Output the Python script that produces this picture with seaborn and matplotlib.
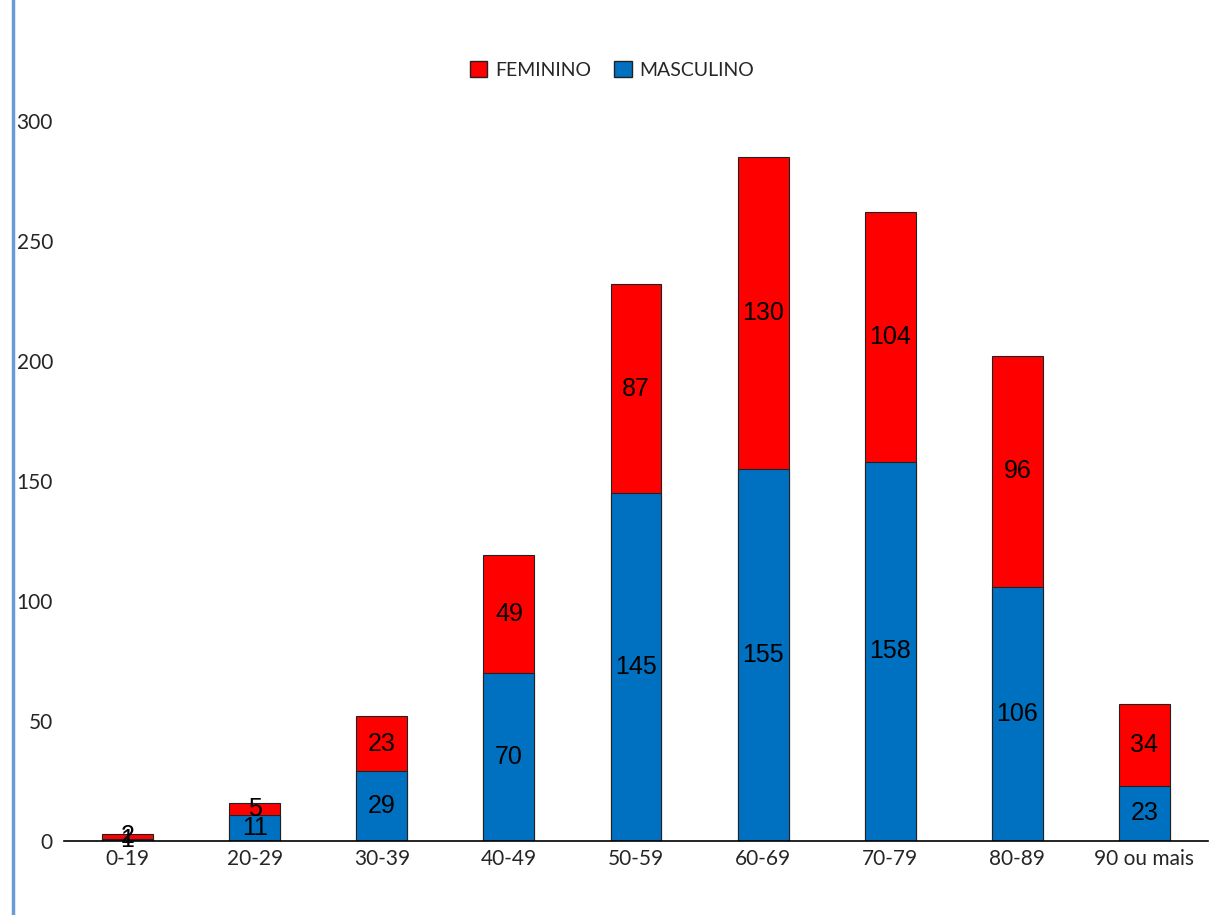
import seaborn as sns
import pandas as pd
import numpy as np
import matplotlib.pyplot as plt
from matplotlib.patches import Patch
from matplotlib.lines import Line2D

faixas = ['0-19', '20-29', '30-39', '40-49', '50-59', '60-69', '70-79', '80-89', '90 ou mais']
masculino = [1, 11, 29, 70, 145, 155, 158, 106, 23]
feminino = [2, 5, 23, 49, 87, 130, 104, 96, 34]

cor_fem = '#FF0000'
cor_masc = '#0070C0'

df = pd.DataFrame({'faixa': faixas, 'masculino': masculino, 'feminino': feminino})
df['total'] = df['masculino'] + df['feminino']

sns.set_style('white')
plt.rcParams['font.family'] = ['Lato', 'DejaVu Sans']

fig = plt.figure(figsize=(12.12, 9.15), dpi=100)
ax = fig.add_axes([64 / 1212, 74 / 915, 1144 / 1212, 720 / 915])

sns.barplot(data=df, x='faixa', y='total', color=cor_fem, width=0.4,
            edgecolor='#222222', linewidth=0.8, saturation=1, ax=ax)
sns.barplot(data=df, x='faixa', y='masculino', color=cor_masc, width=0.4,
            edgecolor='#222222', linewidth=0.8, saturation=1, ax=ax)

# rótulos centrados em cada segmento
for i, row in df.iterrows():
    ax.text(i, row['masculino'] / 2, str(row['masculino']), ha='center', va='center',
            fontsize=18, family='Liberation Sans', color='black')
    ax.text(i, row['masculino'] + row['feminino'] / 2, str(row['feminino']), ha='center',
            va='center', fontsize=18, family='Liberation Sans', color='black')

ax.set_xlim(-0.5, 8.5)
ax.set_ylim(0, 300)
ax.set_yticks(np.arange(0, 301, 50))
ax.set_xlabel('')
ax.set_ylabel('')
ax.tick_params(axis='both', length=0, labelsize=15)
ax.tick_params(axis='y', pad=8)
ax.tick_params(axis='x', pad=6)
for s in ['top', 'right', 'left']:
    ax.spines[s].set_visible(False)
ax.spines['bottom'].set_color('black')
ax.spines['bottom'].set_linewidth(1.2)

handles = [Patch(facecolor=cor_fem, edgecolor='#222222', label='FEMININO'),
           Patch(facecolor=cor_masc, edgecolor='#222222', label='MASCULINO')]
fig.legend(handles=handles, loc='center', bbox_to_anchor=(612 / 1212, 1 - 70 / 915), ncol=2,
           frameon=False, fontsize=14, handlelength=0.9, handleheight=0.9,
           handletextpad=0.4, columnspacing=1.2)

fig.add_artist(Line2D([13 / 1212, 13 / 1212], [0, 1], transform=fig.transFigure,
                      color='#6A9BD6', linewidth=2.5))

fig.savefig('out.png', dpi=100)
